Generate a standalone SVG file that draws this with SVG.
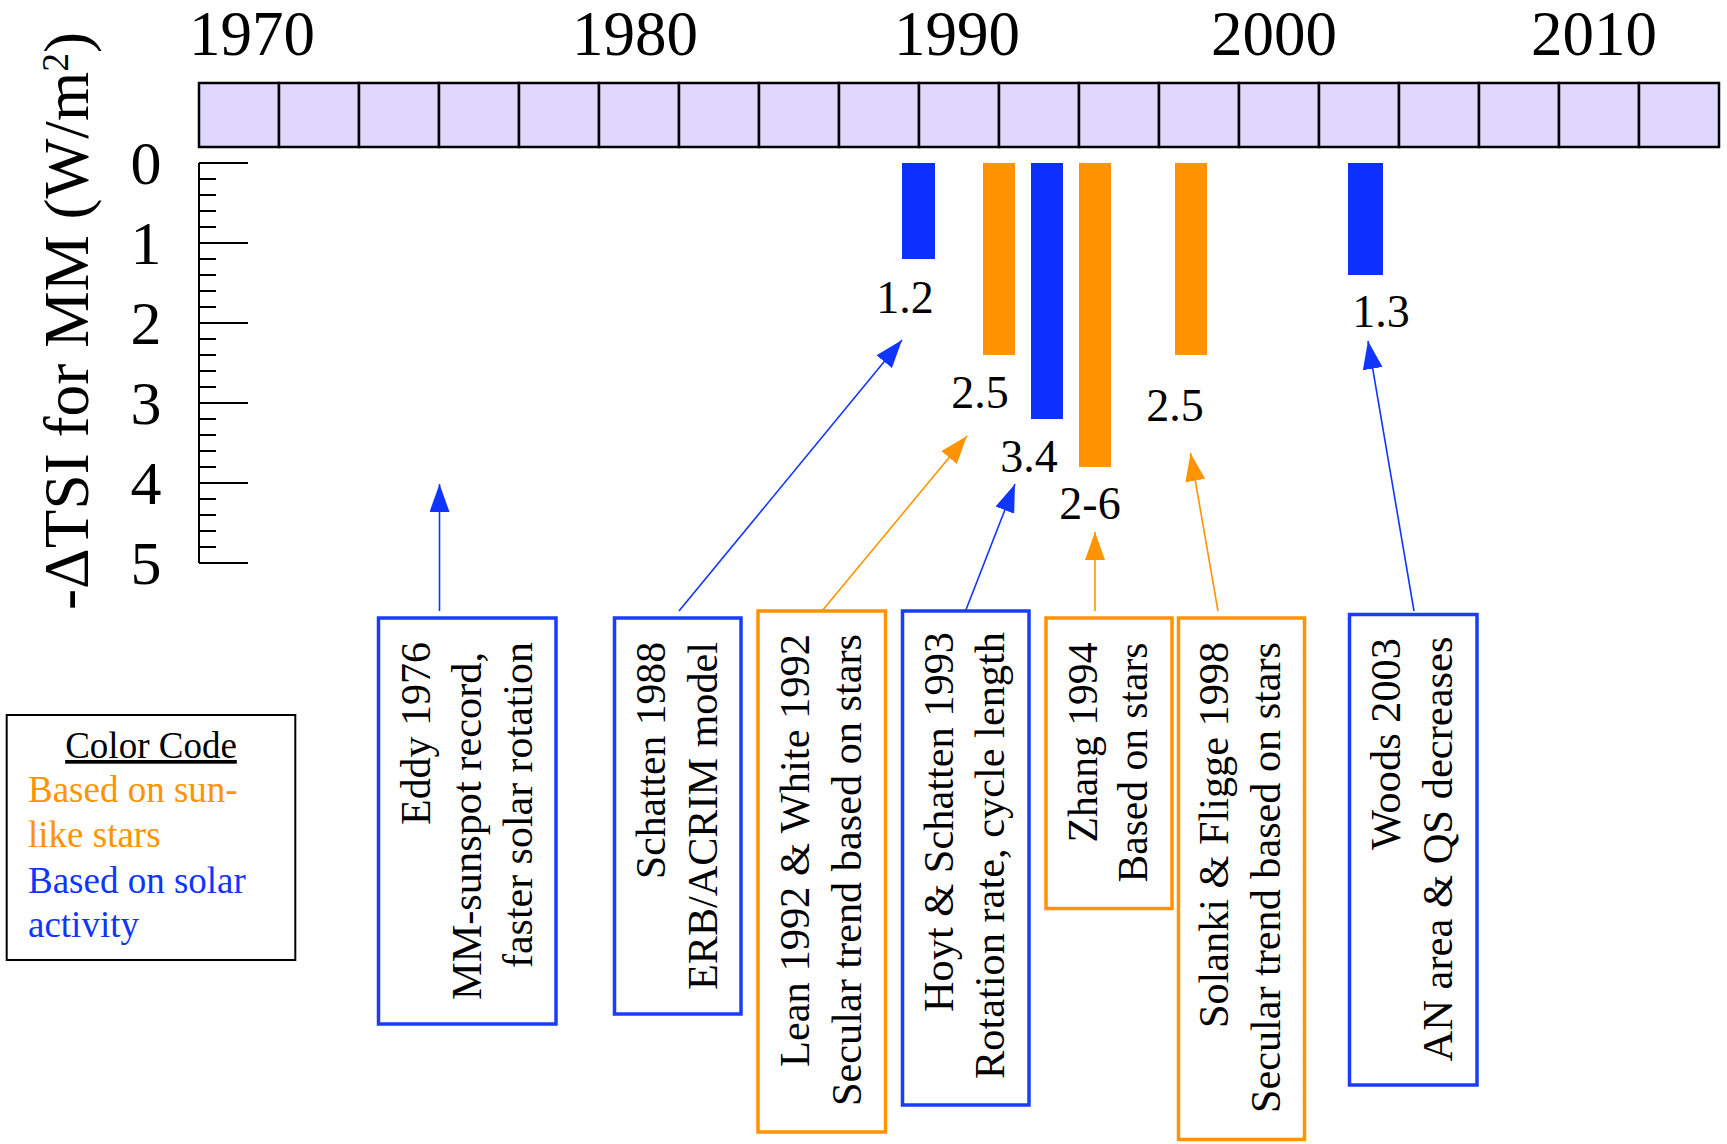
<svg xmlns="http://www.w3.org/2000/svg" width="1727" height="1144" viewBox="0 0 1727 1144">
<style>
text{font-family:"Liberation Serif","Times New Roman",serif;fill:#000}
.yr{font-size:63px;text-anchor:middle}
.tk{font-size:62px;text-anchor:middle}
.val{font-size:46px;text-anchor:middle}
.rt{font-size:43px}
.lg{font-size:37px}
.cell{fill:#dfd7fe;stroke:#000;stroke-width:2.5}
.ax{stroke:#000;stroke-width:2;fill:none}
.bb{fill:#0b30ff}
.ob{fill:#ff9300}
.boxb{fill:#fff;stroke:#1a3cff;stroke-width:3.5}
.boxo{fill:#fff;stroke:#ff9300;stroke-width:3.5}
.cb{stroke:#1035ff;stroke-width:1.6;fill:none;marker-end:url(#ab)}
.co{stroke:#ff9300;stroke-width:1.6;fill:none;marker-end:url(#ao)}
</style>
<defs>
<marker id="ab" markerUnits="userSpaceOnUse" markerWidth="30" markerHeight="22" refX="28" refY="10" orient="auto"><path d="M0,0 L28,10 L0,20 z" fill="#1035ff"/></marker>
<marker id="ao" markerUnits="userSpaceOnUse" markerWidth="30" markerHeight="22" refX="28" refY="10" orient="auto"><path d="M0,0 L28,10 L0,20 z" fill="#ff9300"/></marker>
</defs>
<rect width="1727" height="1144" fill="#fff"/>

<g id="years">
<text class="yr" x="252" y="54.5">1970</text>
<text class="yr" x="635" y="54.5">1980</text>
<text class="yr" x="957" y="54.5">1990</text>
<text class="yr" x="1274" y="54.5">2000</text>
<text class="yr" x="1594" y="54.5">2010</text>
</g>

<g id="timeline">
<rect class="cell" x="199" y="83" width="80" height="64"/>
<rect class="cell" x="279" y="83" width="80" height="64"/>
<rect class="cell" x="359" y="83" width="80" height="64"/>
<rect class="cell" x="439" y="83" width="80" height="64"/>
<rect class="cell" x="519" y="83" width="80" height="64"/>
<rect class="cell" x="599" y="83" width="80" height="64"/>
<rect class="cell" x="679" y="83" width="80" height="64"/>
<rect class="cell" x="759" y="83" width="80" height="64"/>
<rect class="cell" x="839" y="83" width="80" height="64"/>
<rect class="cell" x="919" y="83" width="80" height="64"/>
<rect class="cell" x="999" y="83" width="80" height="64"/>
<rect class="cell" x="1079" y="83" width="80" height="64"/>
<rect class="cell" x="1159" y="83" width="80" height="64"/>
<rect class="cell" x="1239" y="83" width="80" height="64"/>
<rect class="cell" x="1319" y="83" width="80" height="64"/>
<rect class="cell" x="1399" y="83" width="80" height="64"/>
<rect class="cell" x="1479" y="83" width="80" height="64"/>
<rect class="cell" x="1559" y="83" width="80" height="64"/>
<rect class="cell" x="1639" y="83" width="80" height="64"/>
</g>

<g id="y-axis">
<text transform="translate(88,610) rotate(-90)" font-size="64" textLength="578" lengthAdjust="spacingAndGlyphs">-ΔTSI for MM (W/m<tspan font-size="38" dy="-20">2</tspan><tspan dy="20">)</tspan></text>
<path class="ax" d="M199,163 V563 M199,163 H248 M199,243 H248 M199,323 H248 M199,403 H248 M199,483 H248 M199,563 H248 M199,179 H216 M199,195 H216 M199,211 H216 M199,227 H216 M199,259 H216 M199,275 H216 M199,291 H216 M199,307 H216 M199,339 H216 M199,355 H216 M199,371 H216 M199,387 H216 M199,419 H216 M199,435 H216 M199,451 H216 M199,467 H216 M199,499 H216 M199,515 H216 M199,531 H216 M199,547 H216"/>
<text class="tk" x="146" y="184">0</text>
<text class="tk" x="146" y="264">1</text>
<text class="tk" x="146" y="344">2</text>
<text class="tk" x="146" y="424">3</text>
<text class="tk" x="146" y="504">4</text>
<text class="tk" x="146" y="584">5</text>
</g>

<g id="bars">
<rect class="bb" x="902" y="163" width="33" height="96"/>
<rect class="ob" x="983" y="163" width="32" height="192"/>
<rect class="bb" x="1031" y="163" width="32" height="256"/>
<rect class="ob" x="1079" y="163" width="32" height="304"/>
<rect class="ob" x="1175" y="163" width="32" height="192"/>
<rect class="bb" x="1348" y="163" width="35" height="112"/>
<text class="val" x="905" y="312.5">1.2</text>
<text class="val" x="980" y="408">2.5</text>
<text class="val" x="1029" y="471.5">3.4</text>
<text class="val" x="1090" y="519">2-6</text>
<text class="val" x="1175" y="421">2.5</text>
<text class="val" x="1381" y="327">1.3</text>
</g>

<g id="connectors">
<line class="cb" x1="439.5" y1="611" x2="439.5" y2="484"/>
<line class="cb" x1="679" y1="611" x2="902" y2="340"/>
<line class="co" x1="822" y1="611" x2="967" y2="436"/>
<line class="cb" x1="965.5" y1="611" x2="1015" y2="484"/>
<line class="co" x1="1095" y1="611" x2="1095" y2="532"/>
<line class="co" x1="1218" y1="611" x2="1190.5" y2="453"/>
<line class="cb" x1="1414" y1="611" x2="1368" y2="341"/>
</g>

<g id="eddy">
<rect class="boxb" x="378.5" y="618" width="177.5" height="406"/>
<text class="rt" transform="translate(430,825) rotate(-90)" textLength="183" lengthAdjust="spacingAndGlyphs">Eddy 1976</text>
<text class="rt" transform="translate(481,1000) rotate(-90)" textLength="348" lengthAdjust="spacingAndGlyphs">MM-sunspot record,</text>
<text class="rt" transform="translate(531.5,968) rotate(-90)" textLength="326" lengthAdjust="spacingAndGlyphs">faster solar rotation</text>
</g>

<g id="schatten">
<rect class="boxb" x="614.5" y="618" width="126.5" height="396"/>
<text class="rt" transform="translate(665,879) rotate(-90)" textLength="237" lengthAdjust="spacingAndGlyphs">Schatten 1988</text>
<text class="rt" transform="translate(716.5,990) rotate(-90)" textLength="348" lengthAdjust="spacingAndGlyphs">ERB/ACRIM model</text>
</g>

<g id="lean">
<rect class="boxo" x="758" y="611" width="127.5" height="521"/>
<text class="rt" transform="translate(809,1067) rotate(-90)" textLength="433" lengthAdjust="spacingAndGlyphs">Lean 1992 &amp; White 1992</text>
<text class="rt" transform="translate(860.5,1106) rotate(-90)" textLength="472" lengthAdjust="spacingAndGlyphs">Secular trend based on stars</text>
</g>

<g id="hoyt">
<rect class="boxb" x="902.5" y="611" width="126.5" height="494"/>
<text class="rt" transform="translate(953,1012) rotate(-90)" textLength="380" lengthAdjust="spacingAndGlyphs">Hoyt &amp; Schatten 1993</text>
<text class="rt" transform="translate(1004,1079) rotate(-90)" textLength="447" lengthAdjust="spacingAndGlyphs">Rotation rate, cycle length</text>
</g>

<g id="zhang">
<rect class="boxo" x="1046" y="618" width="126" height="290.5"/>
<text class="rt" transform="translate(1096.5,842.5) rotate(-90)" textLength="200" lengthAdjust="spacingAndGlyphs">Zhang 1994</text>
<text class="rt" transform="translate(1147,882.5) rotate(-90)" textLength="240" lengthAdjust="spacingAndGlyphs">Based on stars</text>
</g>

<g id="solanki">
<rect class="boxo" x="1178.5" y="618" width="126" height="521.5"/>
<text class="rt" transform="translate(1228,1028) rotate(-90)" textLength="386" lengthAdjust="spacingAndGlyphs">Solanki &amp; Fligge 1998</text>
<text class="rt" transform="translate(1280,1113) rotate(-90)" textLength="471" lengthAdjust="spacingAndGlyphs">Secular trend based on stars</text>
</g>

<g id="woods">
<rect class="boxb" x="1349.5" y="614.5" width="127.5" height="470.5"/>
<text class="rt" transform="translate(1400,850) rotate(-90)" textLength="212" lengthAdjust="spacingAndGlyphs">Woods 2003</text>
<text class="rt" transform="translate(1451.5,1061.5) rotate(-90)" textLength="425" lengthAdjust="spacingAndGlyphs">AN area &amp; QS decreases</text>
</g>

<g id="legend">
<rect x="6.7" y="715" width="288.6" height="245" fill="#fff" stroke="#000" stroke-width="2"/>
<text class="lg" x="151" y="758" text-anchor="middle" text-decoration="underline">Color Code</text>
<text class="lg" x="28" y="801.5" fill="#ff9300" style="fill:#ff9300">Based on sun-</text>
<text class="lg" x="28" y="846.5" style="fill:#ff9300">like stars</text>
<text class="lg" x="28" y="892.5" style="fill:#1035ff">Based on solar</text>
<text class="lg" x="28" y="937" style="fill:#1035ff">activity</text>
</g>
</svg>
